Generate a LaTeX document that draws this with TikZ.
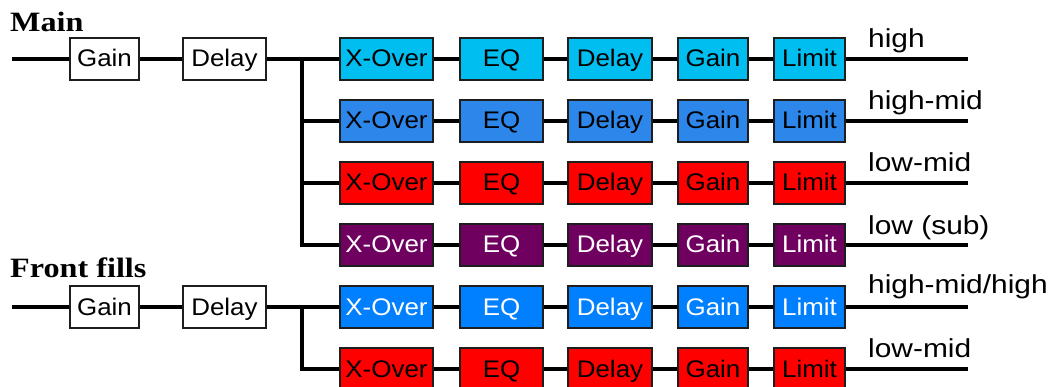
\documentclass[tikz,border=0pt]{standalone}
\usepackage{fontspec}
\setmainfont{Liberation Sans}
\newfontfamily\boxfont[FakeStretch=1.08]{Liberation Sans}
\newfontfamily\lblfont[FakeStretch=1.15]{Liberation Sans}
\newfontfamily\ttlfont[FakeStretch=1.15]{Liberation Serif}
\definecolor{cA}{RGB}{0,190,240}
\definecolor{cB}{RGB}{45,135,235}
\definecolor{cC}{RGB}{255,0,0}
\definecolor{cD}{RGB}{112,0,96}
\definecolor{cE}{RGB}{0,128,255}
\definecolor{edge}{RGB}{30,30,30}
\begin{document}
\begin{tikzpicture}[x=1pt,y=-1pt,
  blk/.style={draw=edge, line width=1.5pt, minimum height=42pt, inner sep=0pt,
    text height=16pt, text depth=0pt,
    font=\boxfont\fontsize{24}{24}\selectfont, anchor=center},
  wire/.style={line width=4pt},
  lbl/.style={anchor=base west, inner sep=0pt, font=\lblfont\fontsize{26}{26}\selectfont},
  ttl/.style={anchor=base west, inner sep=0pt, font=\ttlfont\bfseries\fontsize{28}{28}\selectfont}]
\useasboundingbox (0,0) rectangle (1057,387);
\fill[white] (0,0) rectangle (1057,387);

% titles
\node[ttl] (tmain) at (10,32) {Main};
\node[ttl] (tfront) at (10,278) {Front fills};

% input chains
\foreach \k/\y in {1/59,2/307}{
  \coordinate (in\k) at (12,\y);
  \node[blk, fill=white, minimum width=69pt] (ga\k) at (104.5,\y) {Gain};
  \node[blk, fill=white, minimum width=83pt] (de\k) at (224.5,\y) {Delay};
  \coordinate (br\k) at (302,\y);
  \draw[wire] (in\k) -- (ga\k.west);
  \draw[wire] (ga\k.east) -- (de\k.west);
  \draw[wire] (de\k.east) -- (br\k);
}

% band chains
\foreach \i/\y/\fc/\tc in {1/59/cA/black,2/121/cB/black,3/183/cC/black,4/245/cD/white,5/307/cE/white,6/369/cC/black}{
  \node[blk, fill=\fc, text=\tc, minimum width=93pt] (x\i) at (386.5,\y) {X-Over};
  \node[blk, fill=\fc, text=\tc, minimum width=83pt] (e\i) at (501.5,\y) {EQ};
  \node[blk, fill=\fc, text=\tc, minimum width=84pt] (d\i) at (610,\y) {Delay};
  \node[blk, fill=\fc, text=\tc, minimum width=70pt] (g\i) at (713,\y) {Gain};
  \node[blk, fill=\fc, text=\tc, minimum width=71pt] (l\i) at (809.5,\y) {Limit};
  \coordinate (o\i) at (968,\y);
  \draw[wire] (x\i.east) -- (e\i.west);
  \draw[wire] (e\i.east) -- (d\i.west);
  \draw[wire] (d\i.east) -- (g\i.west);
  \draw[wire] (g\i.east) -- (l\i.west);
  \draw[wire] (l\i.east) -- (o\i);
}

% branches
\draw[wire] (br1) -- (x1.west);
\draw[wire] (br1) |- (x2.west);
\draw[wire] (br1) |- (x3.west);
\draw[wire] (br1) |- (x4.west);
\draw[wire] (br2) -- (x5.west);
\draw[wire] (br2) |- (x6.west);

% output labels
\node[lbl] (lb1) at (868,48) {high};
\node[lbl] (lb2) at (868,110) {high-mid};
\node[lbl] (lb3) at (868,172) {low-mid};
\node[lbl] (lb4) at (868,235) {low (sub)};
\node[lbl] (lb5) at (868,294) {high-mid/high};
\node[lbl] (lb6) at (868,357) {low-mid};
\end{tikzpicture}
\end{document}
